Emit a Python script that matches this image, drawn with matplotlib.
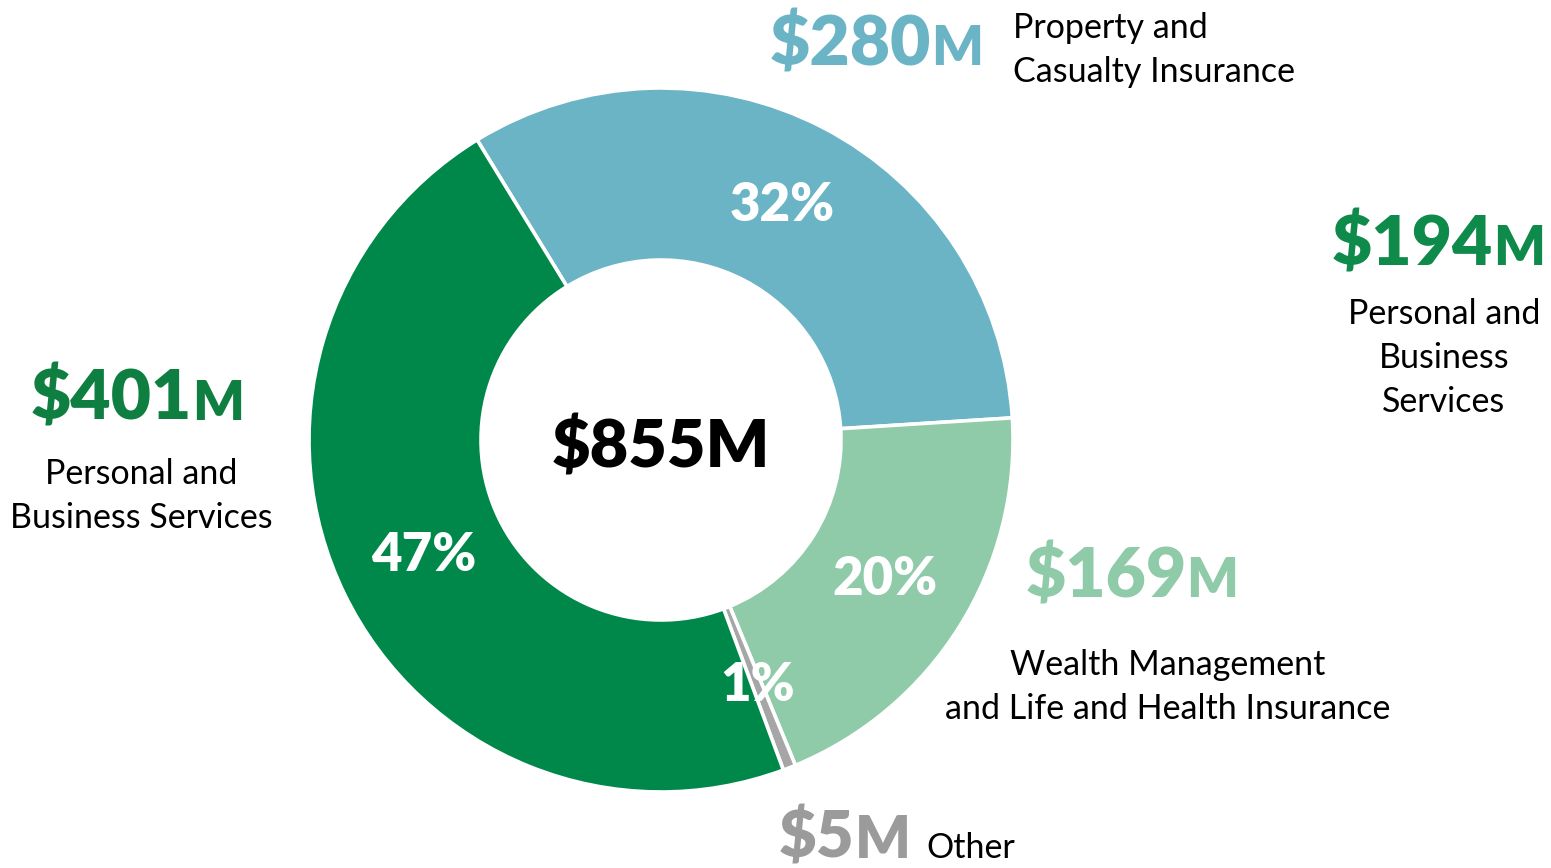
import matplotlib
matplotlib.use("Agg")
import matplotlib.pyplot as plt

plt.rcParams['font.family'] = ['Lato', 'DejaVu Sans']

# ---- data ----
segments = ["Property and Casualty Insurance", "Wealth Management and Life and Health Insurance",
            "Other", "Personal and Business Services"]
values = [280, 169, 5, 401]
pct_labels = ["32%", "20%", "1%", "47%"]
colors = ["#6AB4C6", "#8FCAA9", "#A6A6A6", "#00884A"]
total_label = "$855M"

W, H = 1551, 868
BOLD = 'heavy'
fig = plt.figure(figsize=(W / 100, H / 100), dpi=100)

cx, cy, R = 661, H - 440, 352
ax = fig.add_axes([(cx - R) / W, (cy - R) / H, 2 * R / W, 2 * R / H])
wedges, texts, autotexts = ax.pie(
    values, colors=colors, startangle=121.5, counterclock=False,
    radius=1.0, autopct='%1.0f%%', pctdistance=0.75,
    wedgeprops=dict(width=172 / 352, edgecolor='white', linewidth=2.6),
    textprops=dict(color='white', fontsize=38, fontweight=BOLD))
for t, lab in zip(autotexts, pct_labels):
    t.set_text(lab)
    t.set_va('center')
ax.set_xlim(-1, 1)
ax.set_ylim(-1, 1)
ax.set_aspect('equal')
ax.axis('off')

ax.text(0, -0.02, total_label, ha='center', va='center', fontsize=48,
        fontweight=BOLD, color='black')


def big_amount(x, y_base, number, suffix, color, ha='left', fs1=50, fs2=39):
    """x,y_base in figure pixels (y from top)."""
    yb = H - y_base
    t = fig.text(x / W, yb / H, number, fontsize=fs1, fontweight=BOLD,
                 color=color, ha='left', va='baseline')
    fig.canvas.draw()
    r = fig.canvas.get_renderer()
    bb1 = t.get_window_extent(r)
    t2 = fig.text(bb1.x1 / W, yb / H, suffix, fontsize=fs2, fontweight=BOLD,
                  color=color, ha='left', va='baseline')
    if ha == 'center':
        bb2 = t2.get_window_extent(r)
        total_w = bb2.x1 - bb1.x0
        shift = x - total_w / 2 - bb1.x0
        t.set_x((bb1.x0 + shift) / W)
        t2.set_x((bb1.x1 + shift) / W)
    return t, t2


def body(x, y_center, s, ha='left'):
    fig.text(x / W, (H - y_center) / H, s, fontsize=24.5, color='black',
             ha=ha, va='center', linespacing=1.47, multialignment=ha)


# Property and Casualty
big_amount(770, 65, "$280", "M", colors[0])
body(1013, 50, "Property and\nCasualty Insurance")

# right stray label
big_amount(1438, 265, "$194", "M", "#0E8A4A", ha='center')
body(1444, 358, "Personal and\nBusiness\nServices", ha='center')

# Personal and Business Services
big_amount(137, 420, "$401", "M", "#0E7F41", ha='center')
body(141, 496, "Personal and\nBusiness Services", ha='center')

# Wealth
big_amount(1132, 597, "$169", "M", colors[1], ha='center')
body(1168, 687, "Wealth Management\nand Life and Health Insurance", ha='center')

# Other
t5a, t5b = big_amount(779, 858, "$5", "M", "#9B9B9B", fs1=47, fs2=42)
fig.canvas.draw()
bb = t5b.get_window_extent(fig.canvas.get_renderer())
fig.text((bb.x1 + 16) / W, (H - 858) / H, "Other", fontsize=24.5, color='black',
         ha='left', va='baseline')

fig.savefig("out.png", dpi=100)
